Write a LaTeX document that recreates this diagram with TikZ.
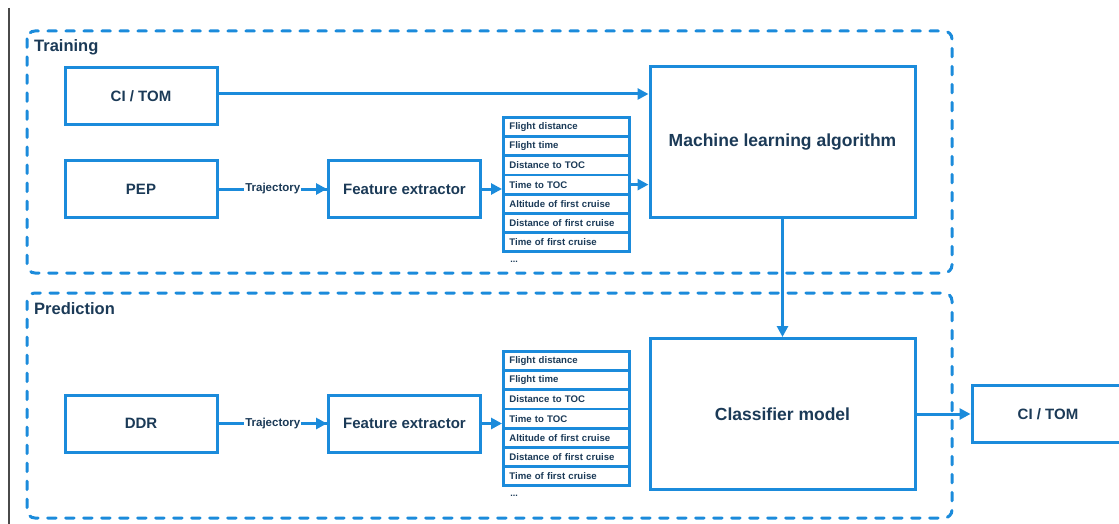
\documentclass[tikz,border=0pt]{standalone}
\usepackage{fontspec}
\setmainfont{Liberation Sans}
\usetikzlibrary{arrows.meta,positioning}
\definecolor{skblue}{HTML}{1B8BDB}
\definecolor{navy}{HTML}{1B3A57}
\definecolor{rule}{HTML}{4A4A4A}
\tikzset{
  frame/.style={draw=skblue,line width=3pt,line cap=round,dash pattern=on 8.5pt off 9.5pt,rounded corners=8pt},
  framelabel/.style={anchor=west,inner sep=0pt,text=navy,font=\bfseries\fontsize{16.5}{18}\selectfont},
  block/.style={draw=skblue,line width=3pt,fill=white,text=navy,minimum width=152pt,minimum height=57pt,inner sep=0pt,font=\bfseries\fontsize{15}{17}\selectfont},
  bigblock/.style={block,minimum width=265pt,minimum height=151pt,font=\bfseries\fontsize{17.5}{20}\selectfont},
  feat/.style={draw=skblue,line width=2.8pt,fill=white,text=navy,minimum width=126pt,minimum height=19.2pt,inner sep=0pt,inner xsep=6pt,text width=114pt,align=left,font=\bfseries\fontsize{9.6}{10}\selectfont},
  conn/.style={draw=skblue,line width=3pt,-{Triangle[length=11pt,width=11pt]}},
  link/.style={draw=skblue,line width=3pt},
  edgelabel/.style={fill=white,text=navy,inner sep=1pt,font=\bfseries\fontsize{11.5}{13}\selectfont},
  dots/.style={text=navy,inner sep=0pt,font=\bfseries\fontsize{9}{10}\selectfont}
}
\begin{document}
\begin{tikzpicture}[x=1pt,y=-1pt]
\useasboundingbox (0,0) rectangle (1119,524);

% margin rule on the left
\draw[rule,line width=1.5pt] (9,8) -- (9,524);

% the two stage frames
\draw[frame] (27,31) rectangle (952,273);
\node[framelabel] (lbltrain) at (34,47) {Training};
\draw[frame] (27,293) rectangle (952,518);
\node[framelabel] (lblpred) at (34,309) {Prediction};

% ---- training stage ----
\node[block] (citom) at (141,96) {CI / TOM};
\node[block] (pep) at (141,189) {PEP};
\node[block] (fxa) at (404.5,189) {Feature extractor};
\node[bigblock] (mla) at (782.5,142) {Machine learning algorithm};

\foreach \t [count=\i] in {Flight distance,Flight time,Distance to TOC,Time to TOC,Altitude of first cruise,Distance of first cruise,Time of first cruise}{
  \node[feat,anchor=north west] (fa\i) at (502,{116+(\i-1)*19.2}) {\t};
}
\node[dots] (fadots) at (514,262) {...};

\draw[conn] (citom.east |- 0,94) coordinate (c1) -- (c1 -| mla.west);
\draw[link] (pep.east) -- node[edgelabel] (trja) {Trajectory} (fxa.west);
\draw[conn] (trja.east) -- (fxa.west);
\draw[conn] (fxa.east) -- (fxa.east -| fa4.west);
\draw[conn] (fa4.east) -- (fa4.east -| mla.west);

% ---- prediction stage ----
\node[block] (ddr) at (141,423.5) {DDR};
\node[block] (fxb) at (404.5,423.5) {Feature extractor};
\node[bigblock] (cls) at (782.5,414) {Classifier model};
\node[block] (out) at (1048,414) {CI / TOM};

\foreach \t [count=\i] in {Flight distance,Flight time,Distance to TOC,Time to TOC,Altitude of first cruise,Distance of first cruise,Time of first cruise}{
  \node[feat,anchor=north west] (fb\i) at (502,{350+(\i-1)*19.2}) {\t};
}
\node[dots] (fbdots) at (514,496) {...};

\draw[link] (ddr.east) -- node[edgelabel] (trjb) {Trajectory} (fxb.west);
\draw[conn] (trjb.east) -- (fxb.west);
\draw[conn] (fxb.east) -- (fxb.east -| fb4.west);
\draw[conn] (cls.east) -- (out.west);

% trained model handed to the classifier
\draw[conn] (mla.south) -- (cls.north);
\end{tikzpicture}
\end{document}
